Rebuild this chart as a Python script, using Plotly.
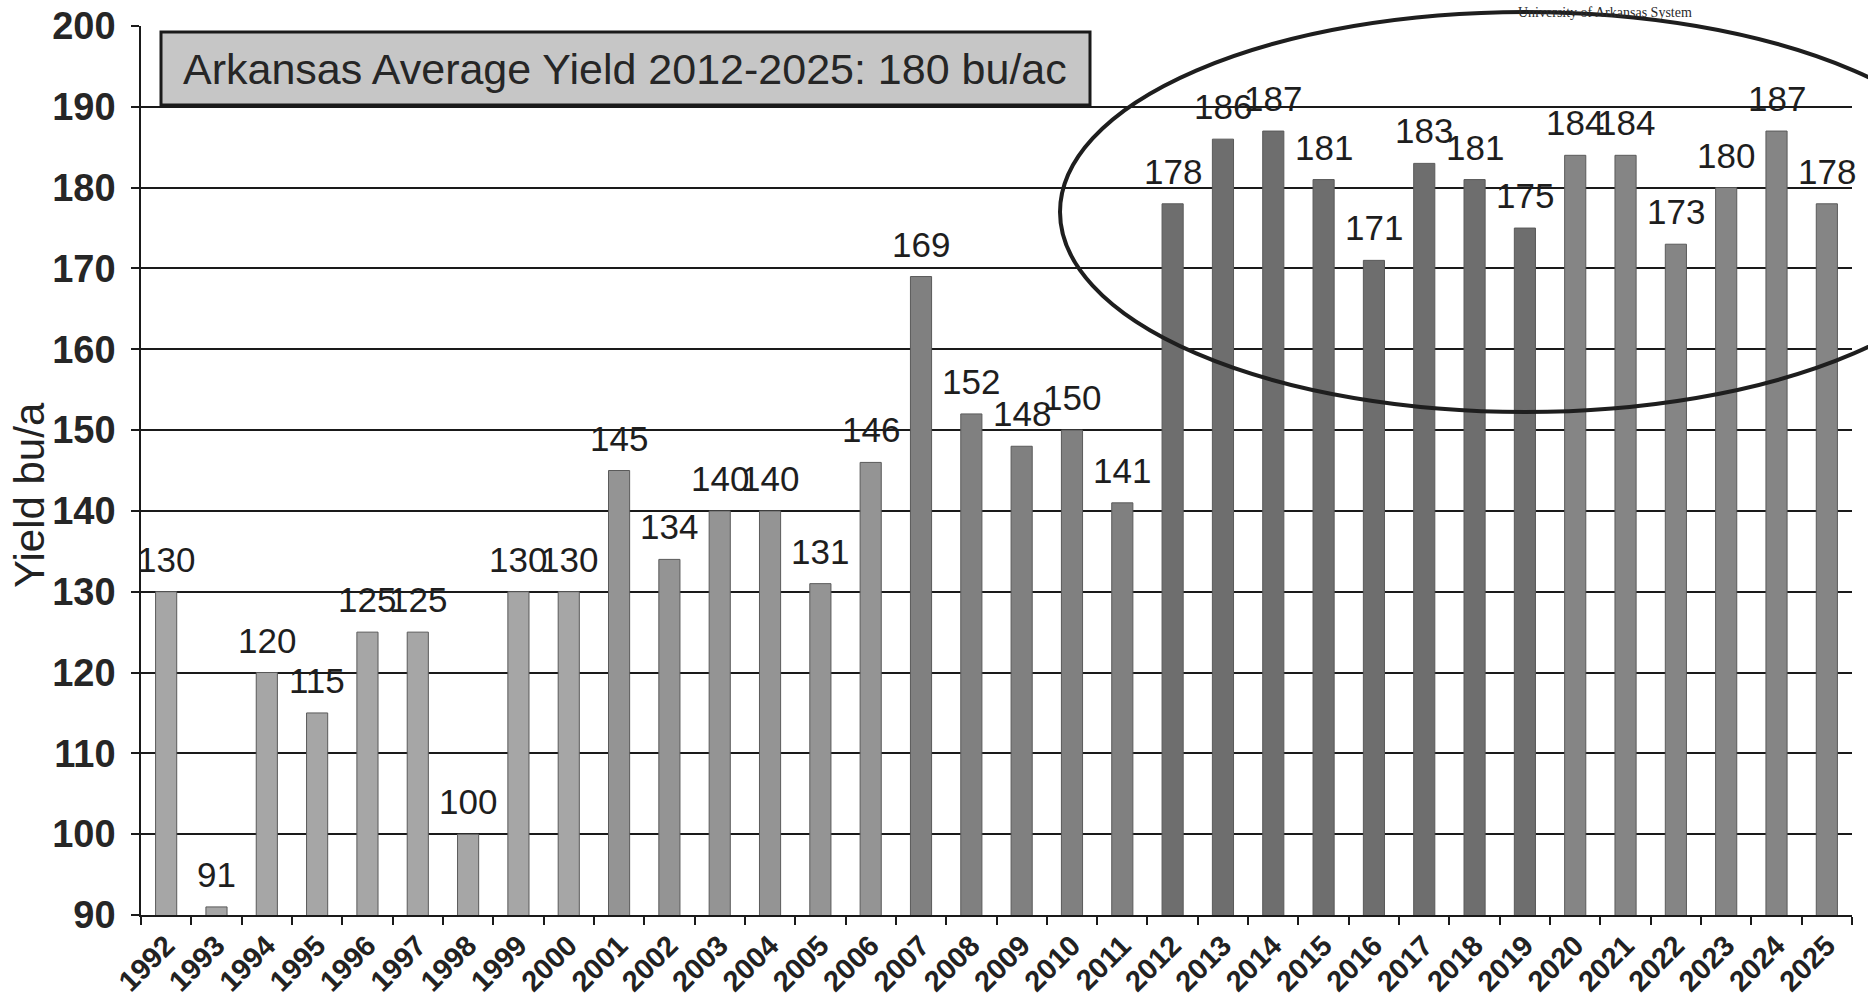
import plotly.graph_objects as go

years = [str(y) for y in range(1992, 2026)]
yields = [130, 91, 120, 115, 125, 125, 100, 130, 130, 145, 134, 140, 140, 131,
          146, 169, 152, 148, 150, 141, 178, 186, 187, 181, 171, 183, 181, 175,
          184, 184, 173, 180, 187, 178]
y_ticks = list(range(90, 201, 10))
title_text = "Arkansas Average Yield 2012-2025: 180 bu/ac"
source_text = "University of Arkansas System"
y_title = "Yield bu/a"

# style: shades of gray per bar (scanned look)
def shade(y):
    yr = int(y)
    if yr <= 2000:
        return "#a6a6a6"
    if yr <= 2006:
        return "#949494"
    if yr <= 2011:
        return "#808080"
    if yr <= 2019:
        return "#6e6e6e"
    return "#858585"

bar_colors = [shade(y) for y in years]

W, H = 1868, 998
L, R, T, B = 141, 16, 26, 83
pw, ph = W - L - R, H - T - B

def px(x):
    return (x - L) / pw

def py(y):
    return (H - B - y) / ph

fig = go.Figure()
fig.add_trace(go.Bar(x=years, y=yields,
                     marker=dict(color=bar_colors, line=dict(width=1, color="#5a5a5a")),
                     hoverinfo="x+y"))

annotations = []
for i, v in enumerate(yields):
    # category axis: position by category index
    annotations.append(dict(x=i, y=v, xref="x", yref="y", text=str(v), showarrow=False,
                            yanchor="bottom", yshift=11,
                            font=dict(family="Arial, Liberation Sans", size=35, color="#1e1e1e")))

# title box text
annotations.append(dict(x=px(625), y=py(69), xref="paper", yref="paper", text=title_text,
                        showarrow=False, xanchor="center", yanchor="middle",
                        font=dict(family="Arial, Liberation Sans", size=43, color="#262626")))
# y-axis title
annotations.append(dict(x=px(30), y=py(495), xref="paper", yref="paper", text=y_title,
                        showarrow=False, textangle=-90, xanchor="center", yanchor="middle",
                        font=dict(family="Arial, Liberation Sans", size=42, color="#222222")))
# source text
annotations.append(dict(x=px(1605), y=py(13), xref="paper", yref="paper", text=source_text,
                        showarrow=False, xanchor="center", yanchor="middle",
                        font=dict(family="Liberation Serif, Times New Roman", size=14, color="#2a2a2a")))

shapes = [
    dict(type="rect", xref="paper", yref="paper", x0=px(161), x1=px(1090), y0=py(105), y1=py(32),
         fillcolor="#c6c6c6", line=dict(color="#1a1a1a", width=3), layer="above"),
    dict(type="circle", xref="paper", yref="paper", x0=px(1525 - 465), x1=px(1525 + 465),
         y0=py(212 + 200), y1=py(212 - 200), line=dict(color="#1e1e1e", width=4), layer="above"),
]

fig.update_layout(
    width=W, height=H,
    margin=dict(l=L, r=R, t=T, b=B, pad=0, autoexpand=False),
    paper_bgcolor="white", plot_bgcolor="white",
    bargap=0.58,
    showlegend=False,
    annotations=annotations,
    shapes=shapes,
    xaxis=dict(type="category", range=[-0.5, len(years) - 0.5], showline=True,
               linecolor="#1a1a1a", linewidth=2, automargin=False,
               ticks="outside", ticklen=8, tickwidth=1.5, tickcolor="#1a1a1a",
               tickson="boundaries", tickangle=-45, showgrid=False,
               tickfont=dict(family="Arial, Liberation Sans", size=29, color="#222222", weight="bold"),
               ),
    yaxis=dict(range=[90, 200], tickvals=y_ticks, showline=True, linecolor="#1a1a1a", linewidth=1.5,
               automargin=False,
               showgrid=True, gridcolor="#1a1a1a", gridwidth=1.8, zeroline=False,
               ticks="outside", ticklen=8, tickwidth=1.8, tickcolor="#1a1a1a",
               ticklabelstandoff=8,
               tickfont=dict(family="Arial, Liberation Sans", size=38, color="#262626", weight="bold"),
               ),
)

fig.write_html("out.html", config={"displayModeBar": False},
               post_script="document.body.style.margin='0';document.body.style.overflow='hidden';")
